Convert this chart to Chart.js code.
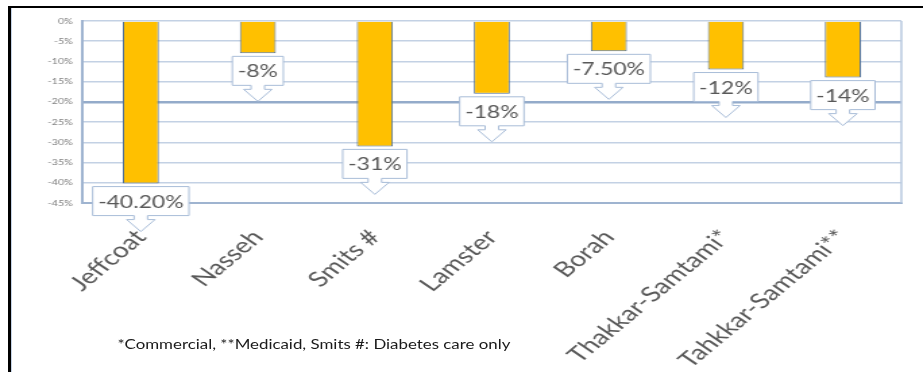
<!DOCTYPE html>
<html>
<head>
<meta charset="utf-8">
<script src="https://cdn.jsdelivr.net/npm/chart.js@4.4.1/dist/chart.umd.min.js"></script>
<style>
html, body { margin: 0; padding: 0; background: #fff; }
body { width: 923px; height: 372px; overflow: hidden; position: relative; }
#moldura { position: absolute; left: 8px; top: 6px; width: 915px; height: 366px; border-top: 2px solid #000; border-left: 3px solid #000; box-sizing: border-box; }
#linhaInterna { position: absolute; left: 11px; top: 8px; width: 1px; height: 364px; background: #c6d4e7; }
/* the source picture is stretched sideways, so the whole chart is too */
#esticado { position: absolute; left: 0; top: 0; width: 684px; height: 372px; transform: scaleX(1.3494); transform-origin: 0 0; }
#grafico { display: block; }
#nota { position: absolute; left: 87px; top: 337px; font: 12.5px Lato, sans-serif; color: #1a1a1a; white-space: nowrap; }
</style>
</head>
<body>
<div id="moldura"></div>
<div id="linhaInterna"></div>
<div id="esticado">
  <canvas id="grafico" width="684" height="372"></canvas>
  <div id="nota">*Commercial, **Medicaid, Smits #: Diabetes care only</div>
</div>
<script>
// dados
const estudos = ['Jeffcoat', 'Nasseh', 'Smits #', 'Lamster', 'Borah', 'Thakkar-Samtami*', 'Tahkkar-Samtami**'];
const reducao = [-40.2, -8, -31, -18, -7.5, -12, -14];
const rotulos = ['-40.20%', '-8%', '-31%', '-18%', '-7.50%', '-12%', '-14%'];
const ticksY = [0, -5, -10, -15, -20, -25, -30, -35, -40, -45];

// balões com seta embaixo de cada barra
const baloes = {
  id: 'baloes',
  afterDraw(chart) {
    const ctx = chart.ctx;
    const meta = chart.getDatasetMeta(0);
    ctx.save();
    ctx.font = '17px Lato, sans-serif';
    meta.data.forEach((barra, i) => {
      const txt = rotulos[i];
      const w = ctx.measureText(txt).width + 8;
      const h = 29;
      const cx = barra.x;
      const topo = barra.y + 3;
      const esq = cx - w / 2, dir = cx + w / 2, base = topo + h;
      ctx.beginPath();
      ctx.moveTo(esq, topo);
      ctx.lineTo(dir, topo);
      ctx.lineTo(dir, base);
      ctx.lineTo(cx + 5, base);
      ctx.lineTo(cx + 5, base + 4);
      ctx.lineTo(cx + 10.5, base + 4);
      ctx.lineTo(cx, base + 16);
      ctx.lineTo(cx - 10.5, base + 4);
      ctx.lineTo(cx - 5, base + 4);
      ctx.lineTo(cx - 5, base);
      ctx.lineTo(esq, base);
      ctx.closePath();
      ctx.fillStyle = '#ffffff';
      ctx.fill();
      ctx.strokeStyle = '#a9bdd8';
      ctx.lineWidth = 1;
      ctx.stroke();
      ctx.fillStyle = '#595959';
      ctx.textAlign = 'center';
      ctx.textBaseline = 'middle';
      ctx.fillText(txt, cx, topo + h / 2 + 1);
    });
    // borda direita da área do gráfico
    const a = chart.chartArea;
    ctx.beginPath();
    ctx.moveTo(a.right, a.top);
    ctx.lineTo(a.right, a.bottom);
    ctx.strokeStyle = '#b7c8df';
    ctx.lineWidth = 1.5;
    ctx.stroke();
    ctx.restore();
  }
};

new Chart(document.getElementById('grafico'), {
  type: 'bar',
  data: {
    labels: estudos,
    datasets: [{
      data: reducao,
      backgroundColor: '#FFC000',
      borderColor: '#4F6F96',
      borderWidth: 1,
      barPercentage: 0.308,
      categoryPercentage: 1
    }]
  },
  options: {
    responsive: false,
    animation: false,
    devicePixelRatio: 1,
    layout: { padding: { top: 21, right: 16, left: 0, bottom: 0 } },
    plugins: {
      legend: { display: false },
      tooltip: { enabled: false }
    },
    scales: {
      x: {
        grid: { display: false },
        border: { display: true, color: '#9fb4d0', width: 2 },
        ticks: {
          color: '#595959',
          font: { family: 'Lato', size: 21 },
          maxRotation: 48,
          minRotation: 48,
          padding: 14
        },
        afterFit(scale) { scale.height = 169; }
      },
      y: {
        min: -45,
        max: 0,
        afterBuildTicks(scale) { scale.ticks = ticksY.map(v => ({ value: v })); },
        grid: {
          drawTicks: false,
          color: c => (c.tick && c.tick.value === -20) ? '#94abca' : '#c3d1e4',
          lineWidth: c => (c.tick && c.tick.value === -20) ? 2.5 : 1.5
        },
        border: { display: true, color: '#9fb4d0', width: 2 },
        ticks: {
          color: '#7f7f7f',
          font: { family: 'Lato', size: 8 },
          padding: 7,
          callback: v => v + '%'
        },
        afterFit(scale) { scale.width = 61; }
      }
    }
  },
  plugins: [baloes]
});
</script>
</body>
</html>
